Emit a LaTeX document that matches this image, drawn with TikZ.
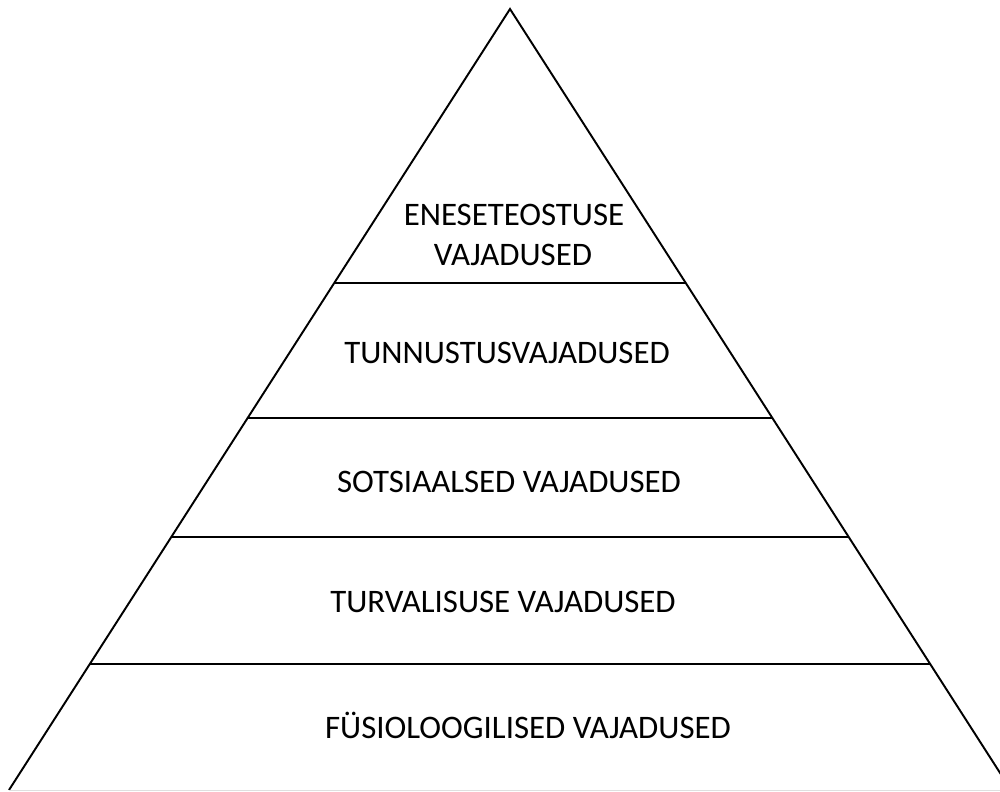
\documentclass[tikz,border=0pt]{standalone}
\usepackage{fontspec}
\setmainfont{Carlito}
\usetikzlibrary{calc}
\begin{document}
\begin{tikzpicture}[
                x=0.02cm, y=-0.02cm,
                side/.style={line width=1.1pt},
                level/.style={line width=0.7pt},
                label/.style={anchor=base, inner sep=0pt, font=\fontsize{18.7}{22.7}\selectfont}
                ]

                \useasboundingbox (0,0) rectangle (1000,791);
                \clip (0,0) rectangle (1000,791);

                \coordinate (apex) at (510,9);
                \coordinate (bl) at (9,790);
                \coordinate (br) at (1011,790);

                \draw[side] (bl) -- (apex) -- (br);
                \draw[gray!25, thin] (bl) -- (br);

                % levels
                \foreach \p in {0.3508,0.5237,0.6761,0.8387}
                    \draw[level] ($(apex)!\p!(bl)$) -- ($(apex)!\p!(br)$);

                \node[label] (self1) at (514,225) {ENESETEOSTUSE};
                \node[label] (self2) at (513,265) {VAJADUSED};
                \node[label] (esteem) at (507,363) {TUNNUSTUSVAJADUSED};
                \node[label] (social) at (509,492) {SOTSIAALSED VAJADUSED};
                \node[label] (safety) at (503,612) {TURVALISUSE VAJADUSED};
                \node[label] (physio) at (528,738) {FÜSIOLOOGILISED VAJADUSED};
            \end{tikzpicture}
\end{document}
